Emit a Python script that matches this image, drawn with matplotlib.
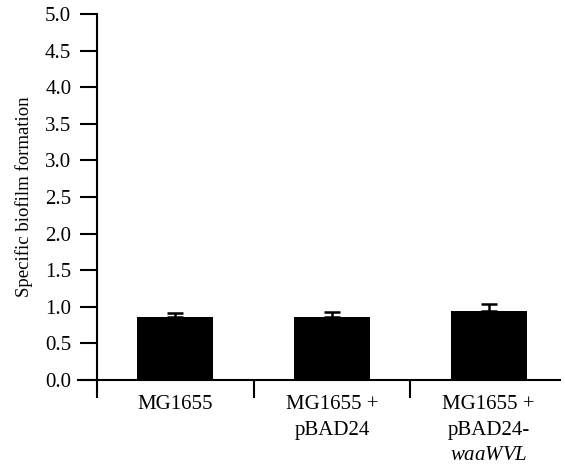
import matplotlib.pyplot as plt
import numpy as np

plt.rcParams["font.family"] = "Liberation Serif"
plt.rcParams["mathtext.fontset"] = "custom"
plt.rcParams["mathtext.rm"] = "Liberation Serif"
plt.rcParams["mathtext.it"] = "Liberation Serif:italic"

strains = ["MG1655", "MG1655 +\npBAD24", "MG1655 +\npBAD24-\n$\\it{waaWVL}$"]
biofilm = [0.865, 0.865, 0.945]
sem = [0.055, 0.065, 0.095]
y_ticks = np.arange(0, 5.01, 0.5)

fig = plt.figure(figsize=(5.65, 4.72), dpi=100)
ax = fig.add_axes([97 / 565, 92 / 472, (560 - 97) / 565, (380 - 14) / 472])

x = np.arange(len(strains))
ax.bar(x, biofilm, width=0.485, color="black", zorder=2)
ax.errorbar(x, biofilm, yerr=[np.zeros(len(sem)), sem], fmt="none",
            ecolor="black", elinewidth=1.8, capsize=5.5, capthick=1.8, zorder=1)

ax.set_xlim(-0.5, 2.455)
ax.set_ylim(0, 5.0)
ax.set_yticks(y_ticks)
ax.set_yticklabels([f"{v:.1f}" for v in y_ticks])
ax.tick_params(axis="y", direction="out", length=12.5, width=1.5, labelsize=15, pad=6)

# category boundaries as ticks, labels in between
ax.set_xticks([-0.5, 0.5, 1.5])
ax.set_xticklabels([])
ax.tick_params(axis="x", which="major", direction="out", length=13, width=1.5)
ax.set_xticks(x, minor=True)
ax.set_xticklabels(strains, minor=True, linespacing=1.45)
ax.tick_params(axis="x", which="minor", length=0, labelsize=15, pad=11)

ax.spines["top"].set_visible(False)
ax.spines["right"].set_visible(False)
ax.spines["left"].set_linewidth(1.5)
ax.spines["bottom"].set_linewidth(1.5)
ax.spines["bottom"].set_bounds(-0.62, 2.455)

ax.set_ylabel("Specific biofilm formation", fontsize=13.5, labelpad=9)

plt.savefig("out.png", dpi=100)
